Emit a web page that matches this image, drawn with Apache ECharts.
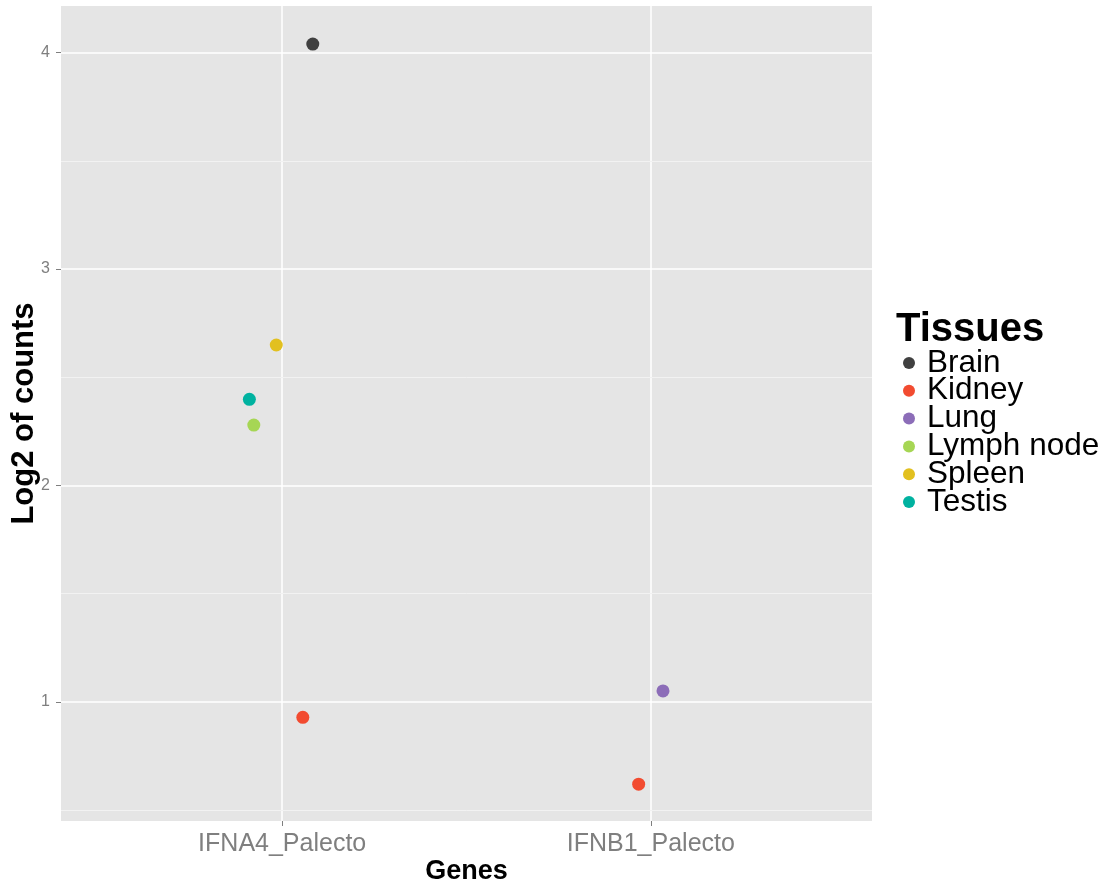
<!DOCTYPE html>
<html>
<head>
<meta charset="utf-8">
<script src="https://cdn.jsdelivr.net/npm/echarts@6/dist/echarts.min.js"></script>
<style>html,body{margin:0;padding:0;background:#fff;}#chart{width:1106px;height:883px;}</style>
</head>
<body>
<div id="chart"></div>
<script>
// Categories / ticks
const genes = ["IFNA4_Palecto", "IFNB1_Palecto"];
const genePositions = [1, 2];
const yTicks = [1, 2, 3, 4];
const yMinorTicks = [0.5, 1.5, 2.5, 3.5];
const tissues = ["Brain", "Kidney", "Lung", "Lymph node", "Spleen", "Testis"];
const tissueColors = ["#404040", "#F24B30", "#8C6DB8", "#A6D654", "#E2C01F", "#00B2A0"];

// Points per tissue: [jittered gene position, log2 count]
const brain = [[1.083, 4.039]];
const kidney = [[1.056, 0.929], [1.967, 0.620]];
const lung = [[2.033, 1.051]];
const lymphNode = [[0.923, 2.279]];
const spleen = [[0.984, 2.649]];
const testis = [[0.911, 2.398]];
const tissueData = [brain, kidney, lung, lymphNode, spleen, testis];

const font = "'Liberation Sans', Arial, Helvetica, sans-serif";
const chart = echarts.init(document.getElementById('chart'), null, {renderer: 'canvas'});

const series = [{
  type: 'scatter',
  name: '_grid',
  data: [],
  silent: true,
  z: 1,
  markLine: {
    silent: true,
    symbol: 'none',
    label: {show: false},
    lineStyle: {color: '#F2F2F2', width: 1, type: 'solid'},
    animation: false,
    data: yMinorTicks.map(v => ({yAxis: v}))
  }
}];
tissues.forEach((t, i) => {
  series.push({
    type: 'scatter',
    name: t,
    data: tissueData[i],
    symbol: 'circle',
    symbolSize: 13,
    itemStyle: {color: tissueColors[i], opacity: 1},
    z: 5
  });
});

chart.setOption({
  animation: false,
  backgroundColor: '#ffffff',
  title: {
    text: 'Tissues',
    left: 896,
    top: 310,
    padding: 0,
    textStyle: {fontFamily: font, fontSize: 40, fontWeight: 'bold', color: '#000'}
  },
  legend: {
    orient: 'vertical',
    left: 903,
    top: 347,
    padding: 0,
    itemGap: -4.2,
    itemWidth: 12,
    itemHeight: 12,
    icon: 'circle',
    data: tissues,
    textStyle: {fontFamily: font, fontSize: 31.5, color: '#000', padding: [0, 0, 0, 7]}
  },
  grid: {left: 61, top: 6, width: 811, height: 815, show: true, backgroundColor: '#E5E5E5', borderWidth: 0, containLabel: false, outerBoundsMode: 'none'},
  xAxis: {
    type: 'value',
    min: 0.4,
    max: 2.6,
    name: 'Genes',
    nameLocation: 'middle',
    nameGap: 37,
    nameMoveOverlap: false,
    nameTextStyle: {fontFamily: font, fontSize: 27, fontWeight: 'bold', color: '#000'},
    axisLine: {show: false},
    axisTick: {show: true, length: 5, lineStyle: {color: '#7F7F7F', width: 1}, customValues: genePositions},
    axisLabel: {
      customValues: genePositions,
      fontFamily: font, fontSize: 25, color: '#7F7F7F', margin: 11,
      formatter: v => genes[genePositions.indexOf(Math.round(v))] || ''
    },
    splitLine: {show: true, lineStyle: {color: '#FFFFFF', width: 1.5}}
  },
  yAxis: {
    type: 'value',
    min: 0.45,
    max: 4.215,
    name: 'Log2 of counts',
    nameLocation: 'middle',
    nameGap: 21,
    nameMoveOverlap: false,
    nameRotate: 90,
    nameTextStyle: {fontFamily: font, fontSize: 31, fontWeight: 'bold', color: '#000'},
    axisLine: {show: false},
    axisTick: {show: true, length: 5, lineStyle: {color: '#7F7F7F', width: 1}, customValues: yTicks},
    axisLabel: {customValues: yTicks, fontFamily: font, fontSize: 16, color: '#7F7F7F', margin: 11},
    splitLine: {show: true, lineStyle: {color: '#FFFFFF', width: 1.5}}
  },
  series: series
});
</script>
</body>
</html>
